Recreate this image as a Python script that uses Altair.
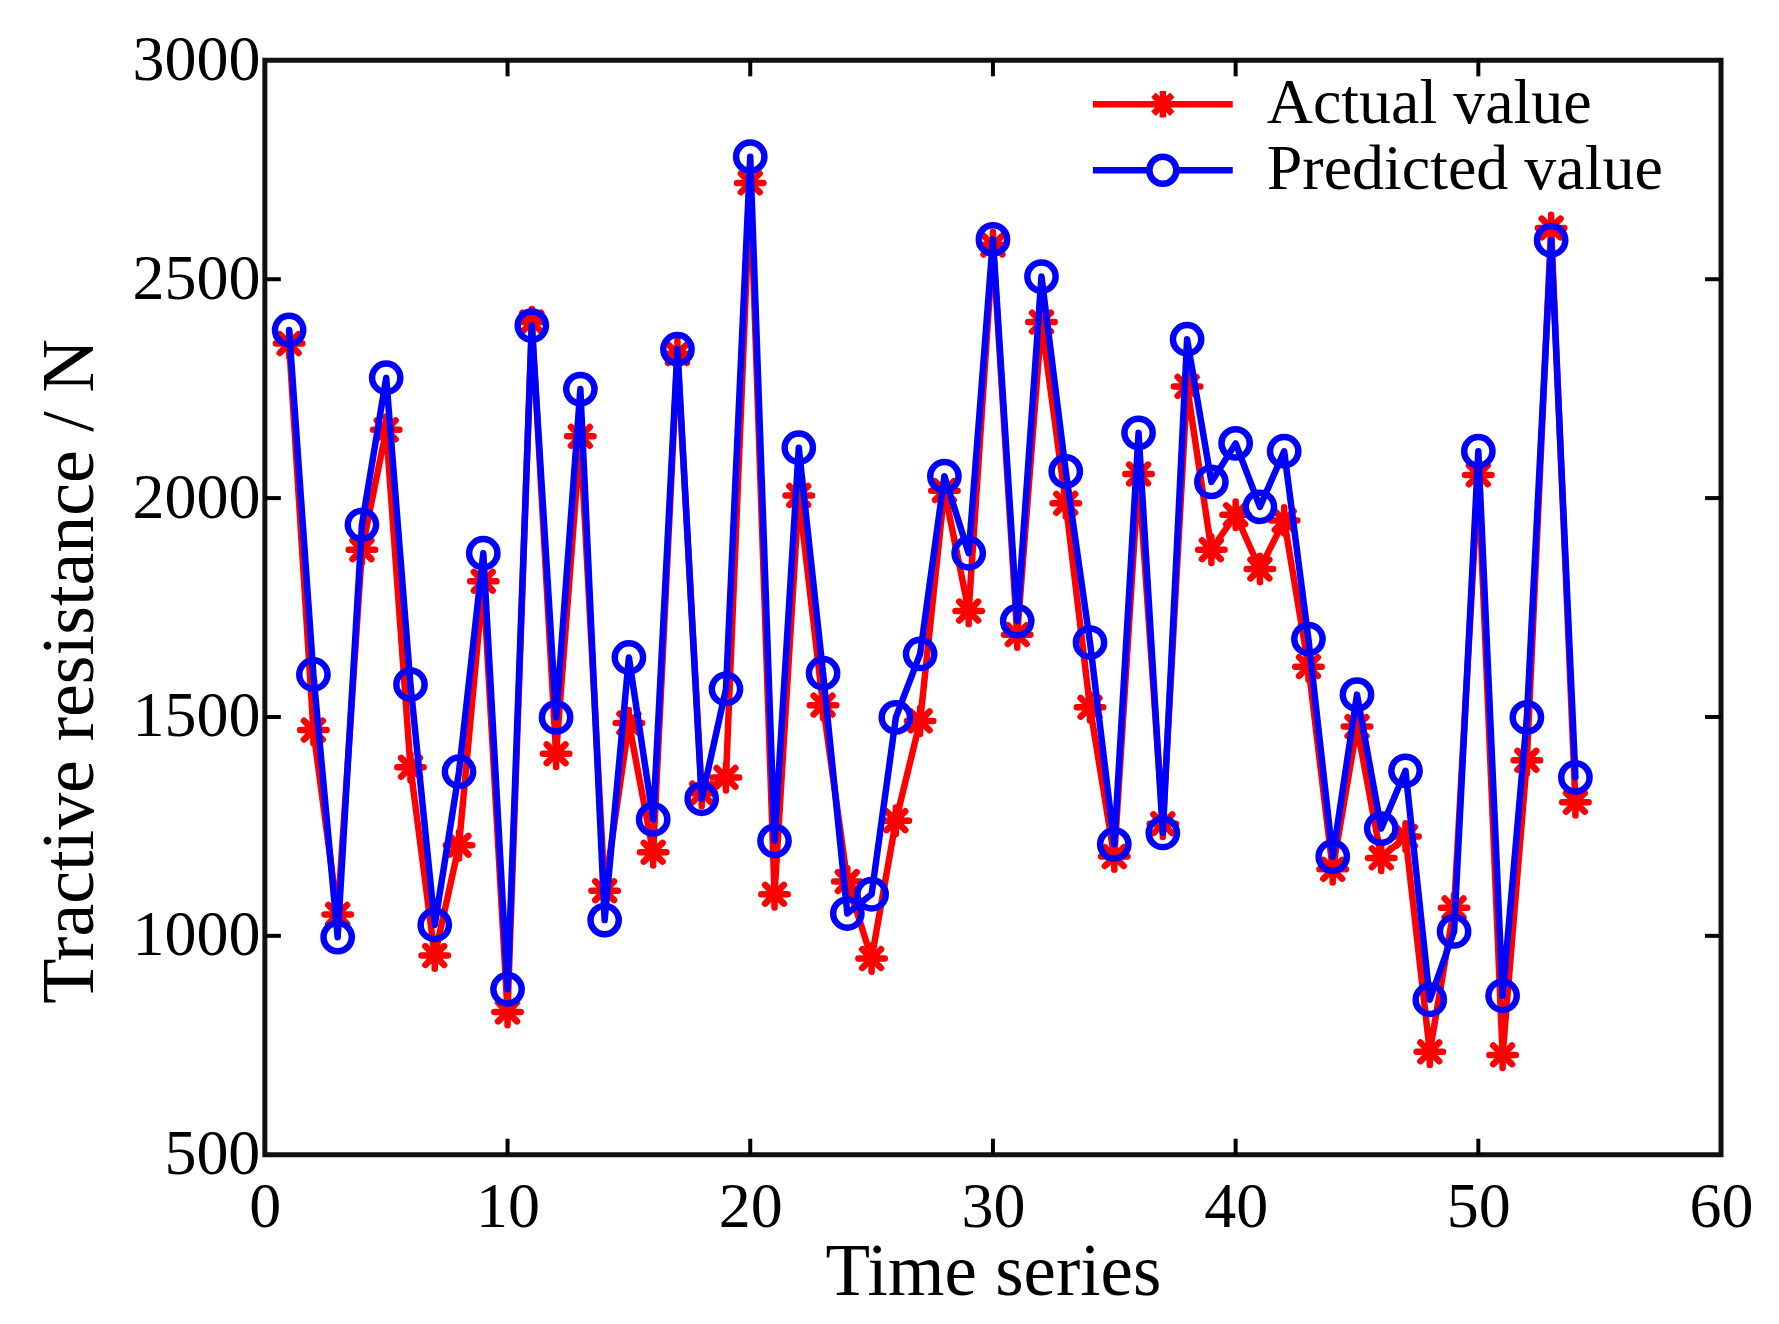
"""Tractive resistance: actual vs predicted over the time series."""

import altair as alt
import pandas as pd

# ---- data ----
time_idx = list(range(1, 55))
actual_value = [
    2353, 1470, 1049, 1882, 2156, 1385, 955, 1207, 1810, 826,
    2402, 1416, 2141, 1103, 1486, 1191, 2330, 1326, 1362, 2720,
    1095, 2006, 1527, 1124, 948, 1263, 1491, 2017, 1742, 2578,
    1688, 2402, 1988, 1522, 1181, 2055, 1256, 2255, 1882, 1962,
    1838, 1949, 1615, 1152, 1478, 1178, 1227, 735, 1064, 2053,
    728, 1401, 2617, 1305,
]
predicted_value = [
    2384, 1597, 997, 1939, 2275, 1574, 1025, 1375, 1874, 878,
    2394, 1499, 2249, 1036, 1636, 1266, 2340, 1313, 1564, 2780,
    1217, 2115, 1600, 1051, 1095, 1499, 1644, 2050, 1874, 2591,
    1719, 2506, 2061, 1670, 1209, 2149, 1235, 2363, 2037, 2125,
    1980, 2107, 1678, 1181, 1551, 1245, 1377, 854, 1010, 2107,
    863, 1499, 2589, 1362,
]
series_names = ["Actual value", "Predicted value"]
series_colors = ["#ff0000", "#0000ff"]
x_tick_values = [0, 10, 20, 30, 40, 50, 60]
y_tick_values = [500, 1000, 1500, 2000, 2500, 3000]
x_inner_ticks = [10, 20, 30, 40, 50]
y_inner_ticks = [1000, 1500, 2000, 2500]

FONT = "Liberation Serif"
W, H = 1457, 1095
TICK = 16
LW = 6.5

df = pd.concat(
    [
        pd.DataFrame({"t": time_idx, "value": actual_value, "series": series_names[0]}),
        pd.DataFrame({"t": time_idx, "value": predicted_value, "series": series_names[1]}),
    ],
    ignore_index=True,
)

ASTERISK = "M0,-0.8L0,0.8M-0.8,0L0.8,0M-0.57,-0.57L0.57,0.57M-0.57,0.57L0.57,-0.57"
LEG_STAR = "M-4.24,0L4.24,0" + ASTERISK
LEG_CIRCLE = (
    "M-4.24,0L-0.82,0M0.82,0L4.24,0"
    "M0.82,0A0.82,0.82 0 1,1 -0.82,0A0.82,0.82 0 1,1 0.82,0Z"
)

legend = alt.Legend(
    title=None,
    orient="none",
    legendX=813,
    legendY=12,
    padding=0,
    labelFont=FONT,
    labelFontSize=64,
    labelColor="black",
    labelLimit=0,
    symbolSize=1089,
    symbolStrokeWidth=LW,
    symbolOpacity=1,
    symbolFillColor="transparent",
    symbolOffset=53.5,
    labelOffset=72,
    rowPadding=2,
)

axis_common = dict(
    ticks=False,
    domain=False,
    grid=False,
    labelFlush=False,
    format="d",
    labelFont=FONT,
    labelFontSize=64,
    labelColor="black",
    titleFont=FONT,
    titleFontWeight="normal",
    titleColor="black",
)

x_enc = alt.X(
    "t:Q",
    scale=alt.Scale(domain=[0, 60], nice=False),
    axis=alt.Axis(
        values=x_tick_values,
        title="Time series",
        labelPadding=21,
        titleFontSize=73,
        titlePadding=-3,
        **axis_common,
    ),
)
y_enc = alt.Y(
    "value:Q",
    scale=alt.Scale(domain=[500, 3000], nice=False, zero=False),
    axis=alt.Axis(
        values=y_tick_values,
        title="Tractive resistance / N",
        labelPadding=5,
        titleFontSize=74,
        titlePadding=23,
        titleY=611,
        **axis_common,
    ),
)

base = alt.Chart(df)
layers = []
for name, col, shape, size in [
    (series_names[0], series_colors[0], ASTERISK, 1089),
    (series_names[1], series_colors[1], "circle", 800),
]:
    sub = base.transform_filter(alt.datum.series == name)
    layers.append(
        sub.mark_line(color=col, strokeWidth=LW, strokeJoin="round", strokeCap="round").encode(x=x_enc, y=y_enc)
    )
    layers.append(
        sub.mark_point(
            shape=shape, size=size, color=col, filled=False, strokeWidth=LW, strokeCap="round", opacity=1
        ).encode(x=x_enc, y=y_enc)
    )

# legend only: no marks drawn, shapes combine line and marker
legend_layer = base.transform_filter("false").mark_point(filled=False, strokeWidth=LW).encode(
    x=x_enc,
    y=y_enc,
    color=alt.Color("series:N", scale=alt.Scale(domain=series_names, range=series_colors), legend=legend),
    shape=alt.Shape("series:N", scale=alt.Scale(domain=series_names, range=[LEG_STAR, LEG_CIRCLE]), legend=legend),
)

# inward MATLAB-style ticks on all four sides
xt = alt.Chart(pd.DataFrame({"t": x_inner_ticks}))
yt = alt.Chart(pd.DataFrame({"value": y_inner_ticks}))
tick_style = dict(color="black", strokeWidth=4)
ticks = [
    xt.mark_rule(**tick_style).encode(x=x_enc, y=alt.value(H), y2=alt.value(H - TICK)),
    xt.mark_rule(**tick_style).encode(x=x_enc, y=alt.value(0), y2=alt.value(TICK)),
    yt.mark_rule(**tick_style).encode(y=y_enc, x=alt.value(0), x2=alt.value(TICK)),
    yt.mark_rule(**tick_style).encode(y=y_enc, x=alt.value(W), x2=alt.value(W - TICK)),
]

chart = (
    alt.layer(*ticks, *layers, legend_layer)
    .properties(
        width=W,
        height=H,
        autosize=alt.AutoSizeParams(type="none"),
        padding={"left": 257, "top": 52, "right": 50, "bottom": 160},
        background="white",
    )
    .configure_view(stroke="#111111", strokeWidth=5)
)

chart.save("out.html", embed_options={"renderer": "svg", "actions": False})
